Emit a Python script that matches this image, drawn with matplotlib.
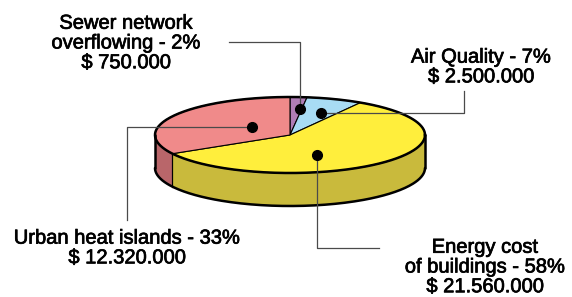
import numpy as np
import matplotlib
matplotlib.use("Agg")
import matplotlib.pyplot as plt
import matplotlib.patheffects as pe
from matplotlib.patches import Wedge, Polygon
from matplotlib.transforms import Affine2D

# slices, clockwise from 12 o'clock
names = ["Sewer network\noverflowing - 2%", "Air Quality - 7%",
         "Energy cost\nof buildings - 58%", "Urban heat islands - 33%"]
amounts = ["$ 750.000", "$ 2.500.000", "$ 21.560.000", "$ 12.320.000"]
values = [750000, 2500000, 21560000, 12320000]

top_colors = ["#B07DB6", "#A8DCF4", "#FFEE3C", "#F08A8A"]
side_colors = ["#8A5C90", "#7FAFC6", "#C9BA3C", "#B9666A"]

# ellipse geometry in pixel space
cx, cy, rx, ry, depth = 290, 135, 135, 38, 33

# label anchors: (angle deg, radius frac) of dot, leader corner, text pos
dots = [(84, 0.69), (68, 0.62), (-69, 0.56), (143, 0.35)]
legs = [("v", 42, 229), ("h", 464, 91), ("v", 248, 379), ("h", 127, 220)]
text_pos = [(126, 43), (481, 67), (485, 267), (127, 248)]


def pt(a, r=1.0, dz=0.0):
    t = np.radians(a)
    return cx + rx * r * np.cos(t), cy - ry * r * np.sin(t) + dz


fig = plt.figure(figsize=(5.72, 2.97), dpi=100)
ax = fig.add_axes([0, 0, 1, 1])
ax.set_xlim(0, 572)
ax.set_ylim(297, 0)
ax.axis("off")

frac = np.array(values) / sum(values)
starts = 90 - 360 * np.concatenate([[0], np.cumsum(frac)[:-1]])
ends = starts - 360 * frac

# side wall (front half only: -180..0)
for s, e, c in zip(starts, ends, side_colors):
    for k in (-360, 0, 360):
        lo, hi = max(e + k, -180), min(s + k, 0)
        if hi <= lo:
            continue
        ts = np.linspace(lo, hi, 60)
        top = [pt(t) for t in ts]
        bot = [pt(t, dz=depth) for t in ts[::-1]]
        ax.add_patch(Polygon(top + bot, closed=True, fc=c, ec="none", zorder=1))
        for edge in (lo, hi):
            if -180 < edge < 0:
                x0, y0 = pt(edge)
                ax.plot([x0, x0], [y0, y0 + depth], color="black", lw=0.8, zorder=2)

# top face
tr = Affine2D().scale(rx, -ry).translate(cx, cy) + ax.transData
for s, e, c in zip(starts, ends, top_colors):
    ax.add_patch(Wedge((0, 0), 1, e, s, fc=c, ec="black", lw=0.8,
                       transform=tr, zorder=3))

# outer outline
ts = np.linspace(0, 360, 400)
xs, ys = zip(*[pt(t) for t in ts])
ax.plot(xs, ys, color="black", lw=1.8, zorder=4)
ts = np.linspace(-180, 0, 200)
xs, ys = zip(*[pt(t, dz=depth) for t in ts])
ax.plot(xs, ys, color="black", lw=1.8, zorder=4, solid_capstyle="round")
for a in (-180, 0):
    x0, y0 = pt(a)
    ax.plot([x0, x0], [y0, y0 + depth], color="black", lw=1.8, zorder=4,
            solid_capstyle="round")

# leaders and labels
for (a, r), (kind, p1, p2), (tx, ty), n, m in zip(dots, legs, text_pos, names, amounts):
    x0, y0 = pt(a, r)
    if kind == "v":
        path = [(x0, y0), (x0, p1), (p2, p1)]
    else:
        path = [(x0, y0), (p1, y0), (p1, p2)]
    px, py = zip(*path)
    ax.plot(px, py, color="#4a4a4a", lw=0.9, zorder=5)
    ax.plot(x0, y0, "o", color="black", ms=7, zorder=6)
    ax.text(tx, ty, n + "\n" + m, ha="center", va="center", fontsize=14.5,
            family="Liberation Sans", linespacing=1.05, zorder=7,
            path_effects=[pe.withStroke(linewidth=0.5, foreground="black")])

fig.savefig("out.png", dpi=100)
